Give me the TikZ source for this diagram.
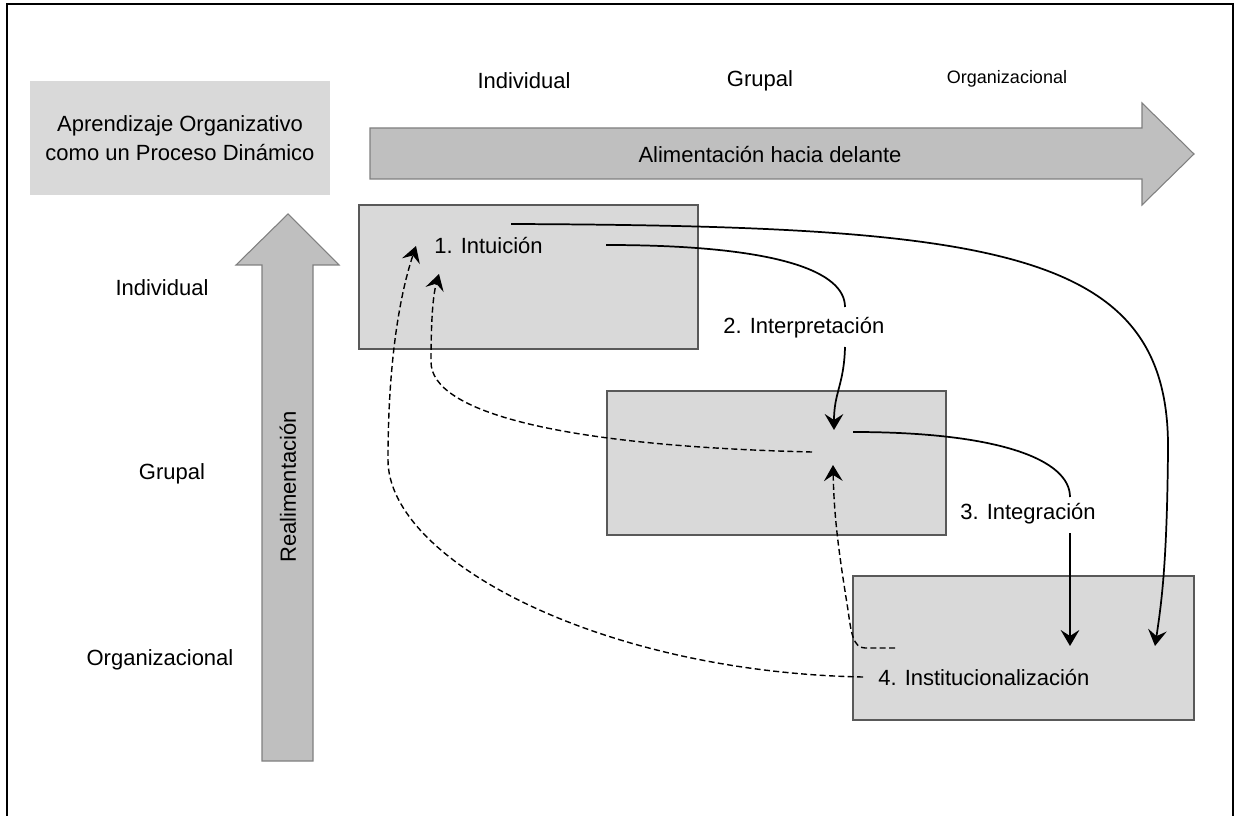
\documentclass[tikz,border=0pt]{standalone}
\usepackage{fontspec}
\setmainfont{Liberation Sans}
\usetikzlibrary{arrows.meta}
\begin{document}
\begin{tikzpicture}[x=0.75pt,y=-0.75pt,
 lbl/.style={font=\fontsize{16.5}{20}\selectfont, inner sep=0pt},
 smalllbl/.style={font=\fontsize{13.5}{16}\selectfont, inner sep=0pt},
 stagebox/.style={draw=black!65, fill=black!15, line width=0.8pt},
 bigarrow/.style={draw=black!50, fill=black!25, line width=0.8pt},
 tip/.style={-{Stealth[length=12pt,width=14pt,inset=4.5pt]}},
 flow/.style={line width=1.3pt, tip},
 plainflow/.style={line width=1.3pt},
 back/.style={line width=1.05pt, dash pattern=on 4.5pt off 2.5pt},
 backarrow/.style={back, tip}]
\useasboundingbox (0,0) rectangle (1235,816);
% frame
\draw[line width=1.5pt] (7,830) -- (7,4) -- (1233,4) -- (1233,830);
% title box
\fill[black!15] (30,81) rectangle (330,195);
\node[lbl, align=center] (titulo) at (180,138) {Aprendizaje Organizativo\\[2pt]como un Proceso Dinámico};
% horizontal arrow
\draw[bigarrow] (370,128) -- (1142,128) -- (1142,103) -- (1194,154) -- (1142,205) -- (1142,179) -- (370,179) -- cycle;
\node[lbl] (alim) at (770,155) {Alimentación hacia delante};
% vertical arrow
\draw[bigarrow] (262,761) -- (262,265) -- (236,265) -- (288,214) -- (339,265) -- (313,265) -- (313,761) -- cycle;
\node[lbl, rotate=90] (realim) at (288,487) {Realimentación};
% level labels
\node[lbl] (tInd) at (524,81) {Individual};
\node[lbl] (tGru) at (760,81) {Grupal};
\node[smalllbl] (tOrg) at (1007,79) {Organizacional};
\node[lbl] (lInd) at (162,288) {Individual};
\node[lbl] (lGru) at (172,474) {Grupal};
\node[lbl] (lOrg) at (160,660) {Organizacional};
% stage boxes
\draw[stagebox] (359,205) rectangle (698,349);
\draw[stagebox] (607,391) rectangle (946,535);
\draw[stagebox] (853,576) rectangle (1194,720);
\node[lbl, anchor=west] (intu) at (434,246) {1. Intuición};
\node[lbl, anchor=west] (interp) at (723,328) {2. Interpretación};
\node[lbl, anchor=west] (integ) at (960,514) {3. Integración};
\node[lbl, anchor=west] (inst) at (878,678) {4. Institucionalización};
% connector coordinates
\coordinate (s1) at (511,224);
\coordinate (e1) at (1155,646);
\coordinate (s2) at (606,245);
\coordinate (m2) at (845,307);
\coordinate (s2b) at (845,347);
\coordinate (e2) at (834,430);
\coordinate (s3) at (853,432);
\coordinate (m3) at (1070,497);
\coordinate (s3b) at (1070,533);
\coordinate (e3) at (1070,646);
\coordinate (sA) at (863,677);
\coordinate (eA) at (416,246);
\coordinate (sB) at (812,452);
\coordinate (eB) at (439,274);
\coordinate (sC) at (895,648);
\coordinate (eC) at (833,465);
% feed-forward
\draw[flow] (s1) .. controls (1000,226) and (1170,250) .. (1168,450) .. controls (1167,560) and (1162,600) .. (e1);
\draw[plainflow] (s2) .. controls (780,245) and (845,272) .. (m2);
\draw[flow] (s2b) .. controls (844,385) and (834,392) .. (e2);
\draw[plainflow] (s3) .. controls (1000,432) and (1070,460) .. (m3);
\draw[flow] (s3b) -- (e3);
% feedback
\draw[backarrow] (sA) .. controls (600,672) and (388,560) .. (388,460) .. controls (388,370) and (398,300) .. (eA);
\draw[backarrow] (sB) .. controls (560,446) and (431,412) .. (431,362) .. controls (431,320) and (433,295) .. (eB);
\draw[backarrow] (sC) -- (865,648) .. controls (853,648) and (851,632) .. (848,610) .. controls (840,560) and (834,520) .. (eC);
\end{tikzpicture}
\end{document}
